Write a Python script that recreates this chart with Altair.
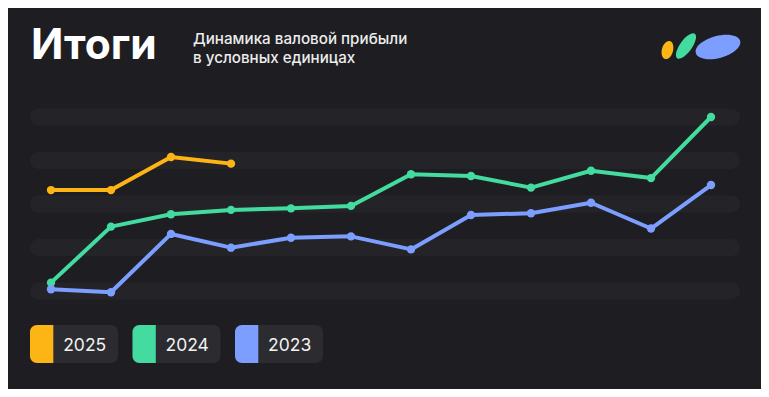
import altair as alt
import pandas as pd

# ---- data ----
months = list(range(1, 13))
years = ["2025", "2024", "2023"]
colors = ["#FDB515", "#43DB9F", "#7C9EFF"]
v2025 = [58.0, 58.0, 77.0, 73.2]
v2024 = [4.8, 37.0, 44.1, 46.6, 47.5, 48.9, 67.1, 66.1, 59.4, 69.1, 64.9, 100.0]
v2023 = [1.0, -0.7, 32.8, 24.9, 30.6, 31.4, 23.9, 43.7, 44.7, 50.7, 35.9, 60.9]
grid_values = [0, 25, 50, 75, 100]
title = "Итоги"
subtitle = ["Динамика валовой прибыли", "в условных единицах"]

BG = "#1e1e22"
BAND = "#242428"
BOX = "#2b2b30"
W, H = 753, 381
O = 8  # page margin offset

rows = []
for yr, vals in zip(years, [v2025, v2024, v2023]):
    for m, v in zip(months, vals):
        rows.append({"year": yr, "month": m, "value": v})
df = pd.DataFrame(rows)

xs = alt.Scale(domain=[0.28333, 12.83333], nice=False, zero=False)
ys = alt.Scale(domain=[-56.3218, 162.6437], nice=False, zero=False)
cs = alt.Scale(domain=years, range=colors)

bands = alt.Chart(pd.DataFrame({"value": grid_values})).mark_rule(
    strokeWidth=17, strokeCap="round", color=BAND
).encode(
    y=alt.Y("value:Q", scale=ys, axis=None),
    x=alt.value(38.5 - O), x2=alt.value(731.5 - O),
)

lines = alt.Chart(df).mark_line(strokeWidth=4, strokeCap="round", strokeJoin="round").encode(
    x=alt.X("month:Q", scale=xs, axis=None),
    y=alt.Y("value:Q", scale=ys, axis=None),
    color=alt.Color("year:N", scale=cs, legend=None),
    detail="year:N",
)
points = alt.Chart(df).mark_circle(size=70, opacity=1).encode(
    x=alt.X("month:Q", scale=xs, axis=None),
    y=alt.Y("value:Q", scale=ys, axis=None),
    color=alt.Color("year:N", scale=cs, legend=None),
)

one = pd.DataFrame({"t": [title]})
title_mark = alt.Chart(one).mark_text(
    font="Inter", fontSize=42.5, fontWeight="bold", color="#ffffff",
    align="left", baseline="alphabetic",
).encode(text="t:N", x=alt.value(31 - O), y=alt.value(58.5 - O))

sub_mark = alt.Chart(pd.DataFrame({"t": [subtitle]})).mark_text(
    font="Inter", fontSize=15.2, fontWeight=500, color="#ececec",
    align="left", baseline="alphabetic", lineHeight=18.5,
).encode(text="t", x=alt.value(193 - O), y=alt.value(44 - O))

# logo ellipses (decoration)
logo = []
for (cx, cy, rx, ry, ang, col) in [
    (667.5, 50, 5.6, 9.3, 15, colors[0]),
    (686, 46, 6.0, 15.0, 36, colors[1]),
    (718, 47, 23.0, 11.0, 345, colors[2]),
]:
    major = max(rx, ry)
    if ry >= rx:
        r = rx / ry
        path = f"M {-r} 0 A {r} 1 0 1 1 {r} 0 A {r} 1 0 1 1 {-r} 0 Z"
    else:
        r = ry / rx
        path = f"M -1 0 A 1 {r} 0 1 1 1 0 A 1 {r} 0 1 1 -1 0 Z"
    logo.append(
        alt.Chart(one).mark_point(
            shape=path, filled=True, opacity=1, color=col, size=(2 * major) ** 2,
            angle=ang, strokeWidth=0,
        ).encode(x=alt.value(cx - O), y=alt.value(cy - O))
    )

# legend pills
legend = []
for i, yr in enumerate(years):
    left = 30 + i * 102.5 - O
    top, bottom = 325 - O, 363 - O
    d = pd.DataFrame({"year": [yr]})
    legend.append(alt.Chart(d).mark_rect(cornerRadius=7, color=BOX).encode(
        x=alt.value(left), x2=alt.value(left + 88), y=alt.value(top), y2=alt.value(bottom)))
    legend.append(alt.Chart(d).mark_rect(cornerRadiusTopLeft=7, cornerRadiusBottomLeft=7).encode(
        x=alt.value(left), x2=alt.value(left + 23.3), y=alt.value(top), y2=alt.value(bottom),
        color=alt.Color("year:N", scale=cs, legend=None)))
    legend.append(alt.Chart(d).mark_text(
        font="Inter", fontSize=17.5, fontWeight=400, color="#f2f2f2",
        align="center", baseline="alphabetic").encode(
        text="year:N", x=alt.value(left + 54.7), y=alt.value(351 - O)))

chart = alt.layer(bands, lines, points, title_mark, sub_mark, *logo, *legend).properties(
    width=W, height=H,
    autosize=alt.AutoSizeParams(type="none"),
    padding=0,
    background=BG,
).configure_view(stroke=None)

chart.save("out.html", embed_options={"renderer": "svg", "actions": False})
